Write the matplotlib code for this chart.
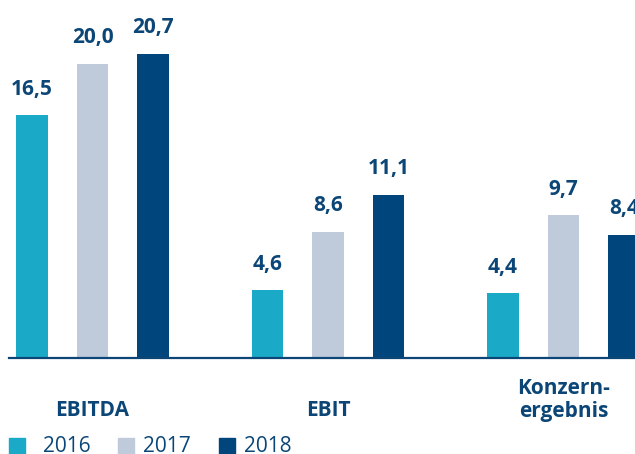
import matplotlib.pyplot as plt
from matplotlib.patches import Rectangle

plt.rcParams['font.family'] = ['Open Sans', 'DejaVu Sans']

categories = ['EBITDA', 'EBIT', 'Konzern-\nergebnis']
years = ['2016', '2017', '2018']
values_2016 = [16.5, 4.6, 4.4]
values_2017 = [20.0, 8.6, 9.7]
values_2018 = [20.7, 11.1, 8.4]
value_labels = [['16,5', '4,6', '4,4'],
                ['20,0', '8,6', '9,7'],
                ['20,7', '11,1', '8,4']]

colors = ['#1AAAC8', '#BFCBDB', '#00457C']
text_color = '#0B4677'

W, H = 635, 454
fig = plt.figure(figsize=(W / 100, H / 100), dpi=100)
# axes: baseline at y=358px, left edge 9px, right edge at figure border
ax = fig.add_axes([9 / W, (H - 358) / H, 1 - 9 / W, 358 / H])
ax.set_xlim(-0.3546, 2.3036)
ax.set_ylim(0, 358 / 14.7)

pitch = 0.257
width = 0.132
series = [values_2016, values_2017, values_2018]
for i, vals in enumerate(series):
    xs = [g + (i - 1) * pitch for g in range(len(categories))]
    bars = ax.bar(xs, vals, width=width, color=colors[i], label=years[i], zorder=2)
    for b, lab in zip(bars, value_labels[i]):
        ax.annotate(lab, (b.get_x() + b.get_width() / 2, b.get_height()),
                    xytext=(0, 26), textcoords='offset pixels',
                    ha='center', va='center', fontsize=15, fontweight='bold',
                    color=text_color)

# category labels
trans = ax.get_xaxis_transform()
for g, cat in enumerate(categories):
    y = (358 - 400) / 358 if '\n' in cat else (358 - 411) / 358
    ax.text(g, y, cat, transform=trans, ha='center', va='center',
            fontsize=15, fontweight='bold', color=text_color, linespacing=1.15)

for s in ['top', 'right', 'left']:
    ax.spines[s].set_visible(False)
ax.spines['bottom'].set_color('#0B4677')
ax.spines['bottom'].set_linewidth(1.6)
ax.set_xticks([])
ax.set_yticks([])

# legend (square + label), positions in figure pixels
legend_sq_x = [9, 118, 219]
legend_txt_x = [43, 143, 244]
for c, yr, sx, tx in zip(colors, years, legend_sq_x, legend_txt_x):
    fig.patches.append(Rectangle((sx / W, 0), 16 / W, 16 / H, color=c,
                                 transform=fig.transFigure, figure=fig))
    fig.text(tx / W, (H - 452) / H, yr, ha='left', va='baseline',
             fontsize=15, color=text_color)

fig.savefig('out.png', dpi=100)
